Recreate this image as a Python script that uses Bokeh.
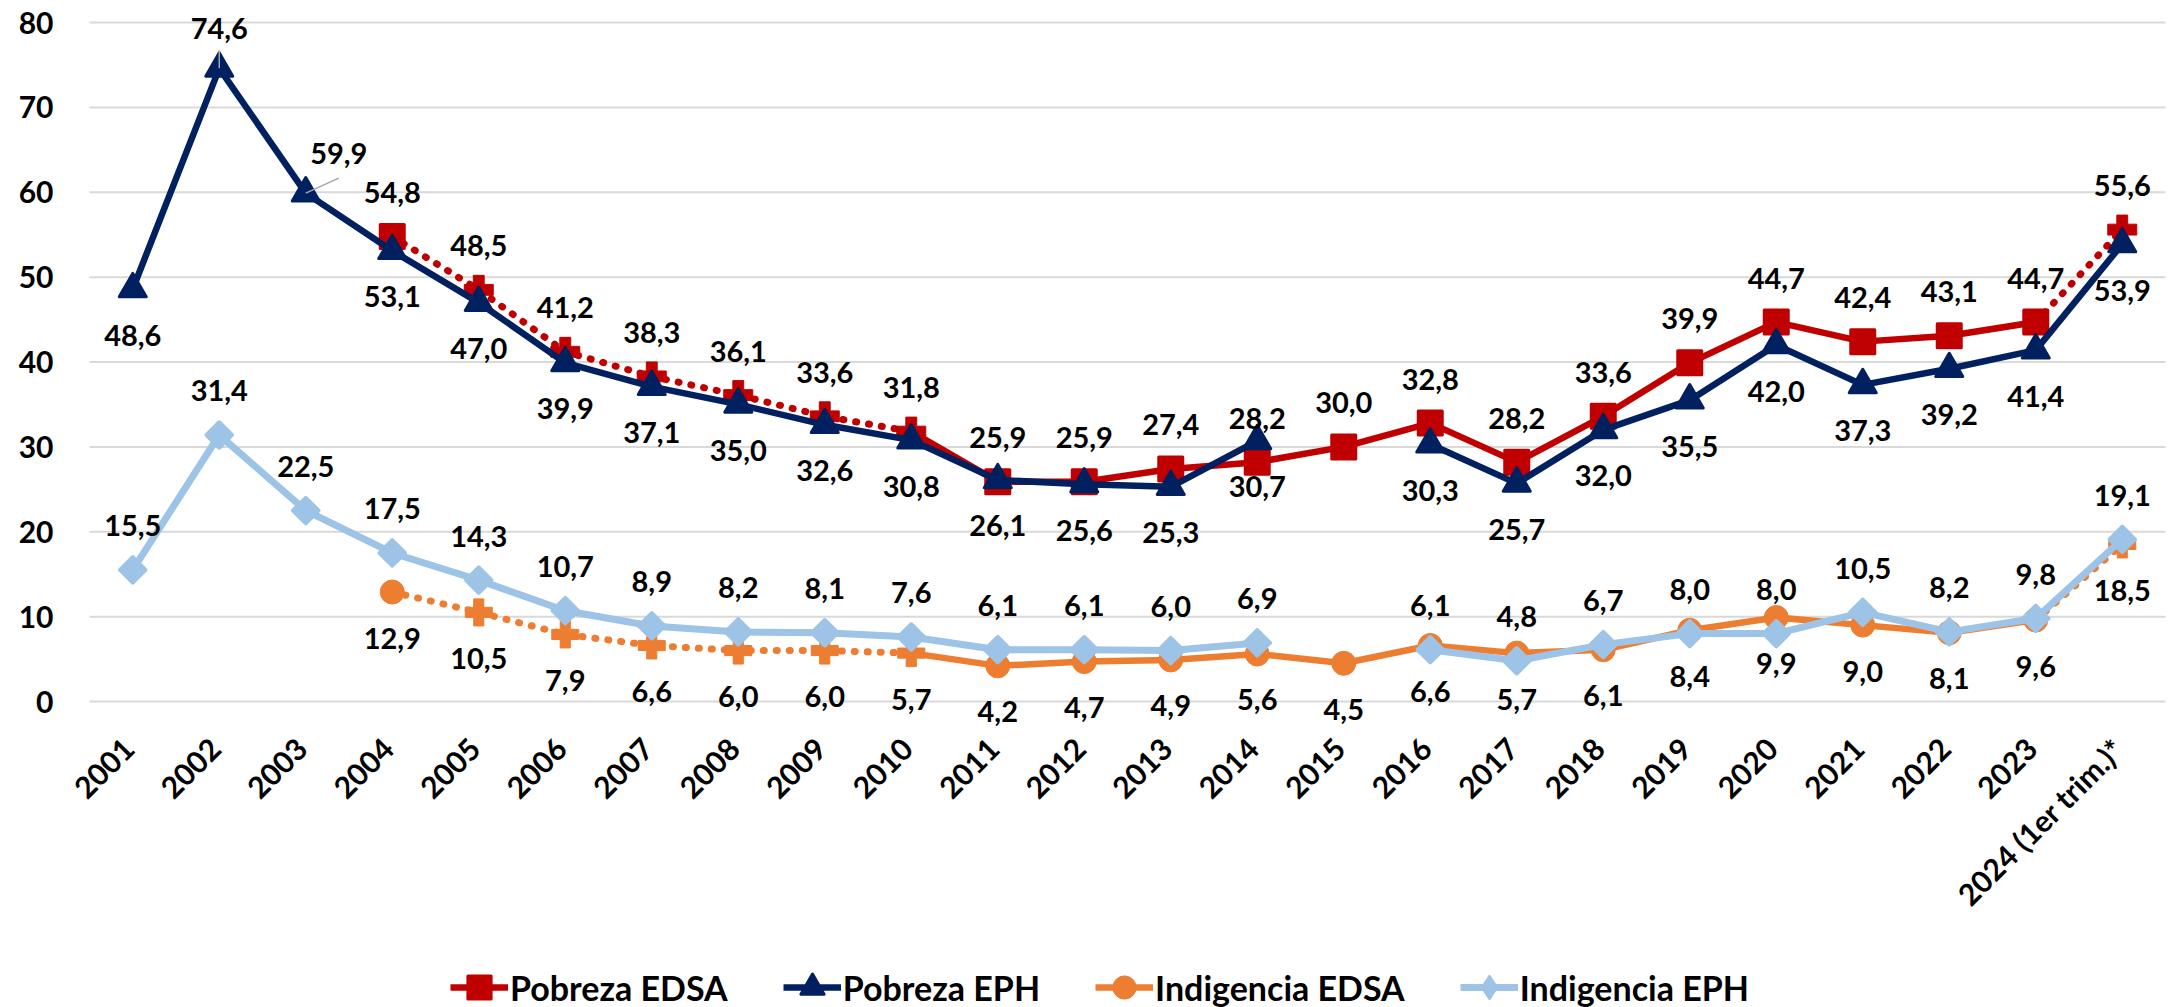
import math
from bokeh.plotting import figure
from bokeh.models import Range1d, Legend, LegendItem, ColumnDataSource, LabelSet
from bokeh.core.properties import value
from bokeh.embed import file_html
from bokeh.resources import INLINE

# ---------------- data ----------------
years = ["2001", "2002", "2003", "2004", "2005", "2006", "2007", "2008", "2009", "2010",
         "2011", "2012", "2013", "2014", "2015", "2016", "2017", "2018", "2019", "2020",
         "2021", "2022", "2023", "2024 (1er trim.)*"]

pobreza_edsa = [None, None, None, 54.8, 48.5, 41.2, 38.3, 36.1, 33.6, 31.8,
                25.9, 25.9, 27.4, 28.2, 30.0, 32.8, 28.2, 33.6, 39.9, 44.7,
                42.4, 43.1, 44.7, 55.6]
pobreza_eph = [48.6, 74.6, 59.9, 53.1, 47.0, 39.9, 37.1, 35.0, 32.6, 30.8,
               26.1, 25.6, 25.3, 30.7, None, 30.3, 25.7, 32.0, 35.5, 42.0,
               37.3, 39.2, 41.4, 53.9]
indigencia_edsa = [None, None, None, 12.9, 10.5, 7.9, 6.6, 6.0, 6.0, 5.7,
                   4.2, 4.7, 4.9, 5.6, 4.5, 6.6, 5.7, 6.1, 8.4, 9.9,
                   9.0, 8.1, 9.6, 18.5]
indigencia_eph = [15.5, 31.4, 22.5, 17.5, 14.3, 10.7, 8.9, 8.2, 8.1, 7.6,
                  6.1, 6.1, 6.0, 6.9, None, 6.1, 4.8, 6.7, 8.0, 8.0,
                  10.5, 8.2, 9.8, 19.1]

y_ticks = [0, 10, 20, 30, 40, 50, 60, 70, 80]

# ---------------- style / layout ----------------
RED = "#C00000"
NAVY = "#002060"
ORANGE = "#ED7D31"
LBLUE = "#9DC3E6"
GRID = "#D9D9D9"
FONT = "Lato"

FIG_W, FIG_H = 2183, 1007
PLOT_L, PLOT_W = 89, 2076        # plot-area placement (px)
TOP_PAD, PLOT_H = 22, 679
n = len(years)
ppx = PLOT_W / n
ppu = PLOT_H / (y_ticks[-1] - y_ticks[0])
x_lo = -0.5 - PLOT_L / ppx
x_hi = n - 0.5 + (FIG_W - PLOT_L - PLOT_W) / ppx
y_hi = y_ticks[-1] + TOP_PAD / ppu
y_lo = y_ticks[0] - (FIG_H - TOP_PAD - PLOT_H) / ppu

# category -> position on the x scale
xpos = {c: i for i, c in enumerate(years)}

# EDSA series structure (indices): old series 2004-2010 dotted, new series 2010-2023 solid,
# 2024 estimate dotted
OLD = (3, 9)
NEW = (9, 22)
PROJ = (22, 23)


def nanify(vals):
    return [float("nan") if v is None else v for v in vals]


def part(vals, i0, i1):
    return [xpos[c] for c in years[i0:i1 + 1]], nanify(vals[i0:i1 + 1])


def pick(vals, idx):
    return [xpos[years[i]] for i in idx], [vals[i] for i in idx]


def present(vals):
    return [i for i, v in enumerate(vals) if v is not None]


p = figure(x_range=Range1d(x_lo, x_hi), y_range=Range1d(y_lo, y_hi),
           width=FIG_W, height=FIG_H, x_axis_location=None, y_axis_location=None,
           output_backend="svg", toolbar_location=None,
           min_border=0, outline_line_color=None, background_fill_color="white",
           border_fill_color="white")
p.grid.visible = False

# horizontal gridlines across the plot area
p.segment(x0=[-0.5] * len(y_ticks), x1=[n - 0.5] * len(y_ticks), y0=y_ticks, y1=y_ticks,
          color=GRID, line_width=2)

DOT = "1 12"
solid_idx = [OLD[0]] + list(range(NEW[0] + 1, NEW[1] + 1))
dot_idx = list(range(OLD[0] + 1, OLD[1] + 1)) + [PROJ[1]]

# --- Pobreza EDSA ---
x, y = part(pobreza_edsa, *OLD)
p.line(x, y, color=RED, line_width=7, line_dash=DOT, line_cap="round")
x, y = part(pobreza_edsa, *PROJ)
p.line(x, y, color=RED, line_width=7, line_dash=DOT, line_cap="round")
x, y = part(pobreza_edsa, *NEW)
r_pe_line = p.line(x, y, color=RED, line_width=6.5, line_join="round")
x, y = pick(pobreza_edsa, dot_idx)
p.scatter(x, y, marker="plus", size=29, color=RED, line_join="round", line_width=1)
x, y = pick(pobreza_edsa, solid_idx)
r_pe_mk = p.scatter(x, y, marker="square", size=24, color=RED, line_join="round", line_width=3)

# --- Pobreza EPH ---
x, y = part(pobreza_eph, 0, n - 1)
r_ph_line = p.line(x, y, color=NAVY, line_width=6.5, line_join="round")
x, y = pick(pobreza_eph, present(pobreza_eph))
r_ph_mk = p.scatter(x, y, marker="triangle", size=27, color=NAVY, line_join="round", line_width=3)

# --- Indigencia EDSA ---
x, y = part(indigencia_edsa, *OLD)
p.line(x, y, color=ORANGE, line_width=7, line_dash=DOT, line_cap="round")
x, y = part(indigencia_edsa, *PROJ)
p.line(x, y, color=ORANGE, line_width=7, line_dash=DOT, line_cap="round")
x, y = part(indigencia_edsa, *NEW)
r_ie_line = p.line(x, y, color=ORANGE, line_width=6.5, line_join="round")
x, y = pick(indigencia_edsa, dot_idx)
p.scatter(x, y, marker="plus", size=27, color=ORANGE, line_join="round", line_width=1)
x, y = pick(indigencia_edsa, solid_idx)
r_ie_mk = p.scatter(x, y, marker="circle", size=24, color=ORANGE)

# --- Indigencia EPH ---
x, y = part(indigencia_eph, 0, n - 1)
r_ih_line = p.line(x, y, color=LBLUE, line_width=7, line_join="round")
x, y = pick(indigencia_eph, present(indigencia_eph))
p.scatter(x, y, marker="square", angle=math.pi / 4, size=18, color=LBLUE,
          line_join="round", line_width=4)
# legend swatch for the diamond (legend ignores marker angle)
r_ih_leg = p.scatter([0], [float("nan")], marker="diamond", size=26, color=LBLUE,
                     line_join="round", line_width=2)

# ---------------- data labels ----------------
ABOVE = 44
BELOW = -46


def fmt(v):
    return f"{v:.1f}".replace(".", ",")


def add_labels(vals, default_off, overrides=None):
    overrides = overrides or {}
    xs, ys, ts, xo, yo = [], [], [], [], []
    for i in present(vals):
        v = vals[i]
        dx, dy = overrides.get(i, (0, default_off))
        xs.append(xpos[years[i]]); ys.append(v); ts.append(fmt(v)); xo.append(dx); yo.append(dy)
    src = ColumnDataSource(dict(x=xs, y=ys, t=ts, xo=xo, yo=yo))
    p.add_layout(LabelSet(x="x", y="y", text="t", source=src, x_offset="xo", y_offset="yo",
                          text_font=value(FONT), text_font_style="bold", text_font_size="29px",
                          text_color="black", text_align="center", text_baseline="middle"))


EPH_OVERRIDES = {1: (0, 40), 2: (33, 40)}

# thin leader lines for the two labels that sit away from their point
for i, (dx, dy) in EPH_OVERRIDES.items():
    v = pobreza_eph[i]
    end_dy = dy - 25 if dx else dy - 22
    p.segment(x0=[xpos[years[i]]], y0=[v], x1=[xpos[years[i]] + dx / ppx],
              y1=[v + end_dy / ppu], color="#A6A6A6", line_width=1.5)

add_labels(pobreza_edsa, ABOVE)
add_labels(pobreza_eph, BELOW, EPH_OVERRIDES)
add_labels(indigencia_edsa, BELOW)
add_labels(indigencia_eph, ABOVE)

# ---------------- axis labels ----------------
# y tick labels, right-aligned left of the plot area
yl_src = ColumnDataSource(dict(x=[-0.5] * len(y_ticks), y=y_ticks, t=[str(t) for t in y_ticks]))
p.add_layout(LabelSet(x="x", y="y", text="t", source=yl_src, x_offset=-36,
                      text_font=value(FONT), text_font_style="bold", text_font_size="30px",
                      text_color="black", text_align="right", text_baseline="middle"))

# category labels, rotated 45 degrees, hanging under the zero line
xl_src = ColumnDataSource(dict(x=[xpos[c] for c in years], y=[y_ticks[0]] * n, t=years))
p.add_layout(LabelSet(x="x", y="y", text="t", source=xl_src, angle=math.pi / 4,
                      x_offset=-4, y_offset=-42,
                      text_font=value(FONT), text_font_style="bold", text_font_size="30px",
                      text_color="black", text_align="right", text_baseline="middle"))

# ---------------- legend ----------------
legend = Legend(items=[
    LegendItem(label="Pobreza EDSA", renderers=[r_pe_line, r_pe_mk]),
    LegendItem(label="Pobreza EPH", renderers=[r_ph_line, r_ph_mk]),
    LegendItem(label="Indigencia EDSA", renderers=[r_ie_line, r_ie_mk]),
    LegendItem(label="Indigencia EPH", renderers=[r_ih_line, r_ih_leg]),
], orientation="horizontal", location=(450, -9),
    label_text_font=FONT, label_text_font_style="bold", label_text_font_size="34px",
    label_text_color="black", glyph_width=58, glyph_height=58, label_standoff=2,
    spacing=55, padding=0, margin=0, border_line_color=None, background_fill_alpha=0)
p.add_layout(legend, "center")

open("out.html", "w").write(file_html(p, INLINE))
